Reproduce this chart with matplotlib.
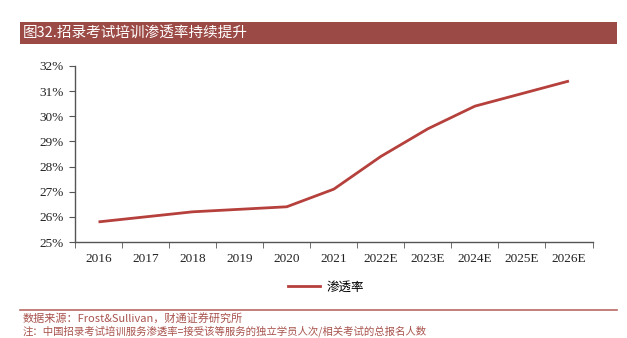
import matplotlib
matplotlib.use("Agg")
import matplotlib.pyplot as plt
from matplotlib.ticker import FixedLocator, FuncFormatter
from matplotlib.lines import Line2D
from matplotlib.patches import Rectangle

years = ["2016", "2017", "2018", "2019", "2020", "2021",
         "2022E", "2023E", "2024E", "2025E", "2026E"]
penetration = [25.8, 26.0, 26.2, 26.3, 26.4, 27.1, 28.4, 29.5, 30.4, 30.9, 31.4]
y_ticks = [25, 26, 27, 28, 29, 30, 31, 32]

title_text = "图32.招录考试培训渗透率持续提升"
series_name = "渗透率"
source_text = "数据来源：Frost&Sullivan，财通证券研究所"
note_text = "注：中国招录考试培训服务渗透率=接受该等服务的独立学员人次/相关考试的总报名人数"

cjk = ["Noto Sans CJK SC", "DejaVu Sans"]
serif = ["Liberation Serif", "Noto Sans CJK SC"]
line_color = "#b5403c"
bar_color = "#9c4a46"
text_red = "#a8534d"

fig = plt.figure(figsize=(6.27, 3.38), dpi=100)

# title banner
fig.patches.append(Rectangle((0.032, 0.870), 0.952, 0.066, transform=fig.transFigure,
                             facecolor=bar_color, edgecolor="none"))
fig.text(0.036, 0.903, title_text, color="white", fontsize=10.5, family=cjk,
         va="center", ha="left")

ax = fig.add_axes([0.1196, 0.284, 0.8254, 0.521])
x = list(range(len(years)))
ax.plot(x, penetration, color=line_color, linewidth=2.0, solid_capstyle="butt")
ax.set_xlim(-0.5, len(years) - 0.5)
ax.set_ylim(25, 32)

ax.yaxis.set_major_locator(FixedLocator(y_ticks))
ax.yaxis.set_major_formatter(FuncFormatter(lambda v, p: f"{v:.0f}%"))
ax.set_xticks(x)
ax.set_xticklabels(years)
ax.xaxis.set_minor_locator(FixedLocator([i - 0.5 for i in range(len(years) + 1)]))
ax.tick_params(axis="x", which="major", length=0, pad=8)
ax.tick_params(axis="x", which="minor", length=4, direction="out", color="#555555")
ax.tick_params(axis="y", length=4, direction="out", color="#555555", pad=4)
for lab in ax.get_xticklabels() + ax.get_yticklabels():
    lab.set_family(serif)
    lab.set_fontsize(9.5)
    lab.set_color("#222222")

for s in ["top", "right"]:
    ax.spines[s].set_visible(False)
for s in ["left", "bottom"]:
    ax.spines[s].set_color("#555555")
    ax.spines[s].set_linewidth(1.0)

handle = Line2D([], [], color=line_color, linewidth=2.0)
leg = fig.legend([handle], [series_name], loc="center", bbox_to_anchor=(0.52, 0.150),
                 frameon=False, handlelength=2.6, handletextpad=0.5,
                 prop={"family": cjk, "size": 9})

# footer rule and source notes
fig.add_artist(Line2D([0.032, 0.984], [0.082, 0.082], transform=fig.transFigure,
                      color="#b86a64", linewidth=1.2))
fig.text(0.036, 0.048, source_text, color=text_red, fontsize=8, family=cjk,
         va="baseline", ha="left")
fig.text(0.036, 0.010, note_text, color=text_red, fontsize=7.5, family=cjk,
         va="baseline", ha="left")

fig.savefig("out.png", dpi=100)
